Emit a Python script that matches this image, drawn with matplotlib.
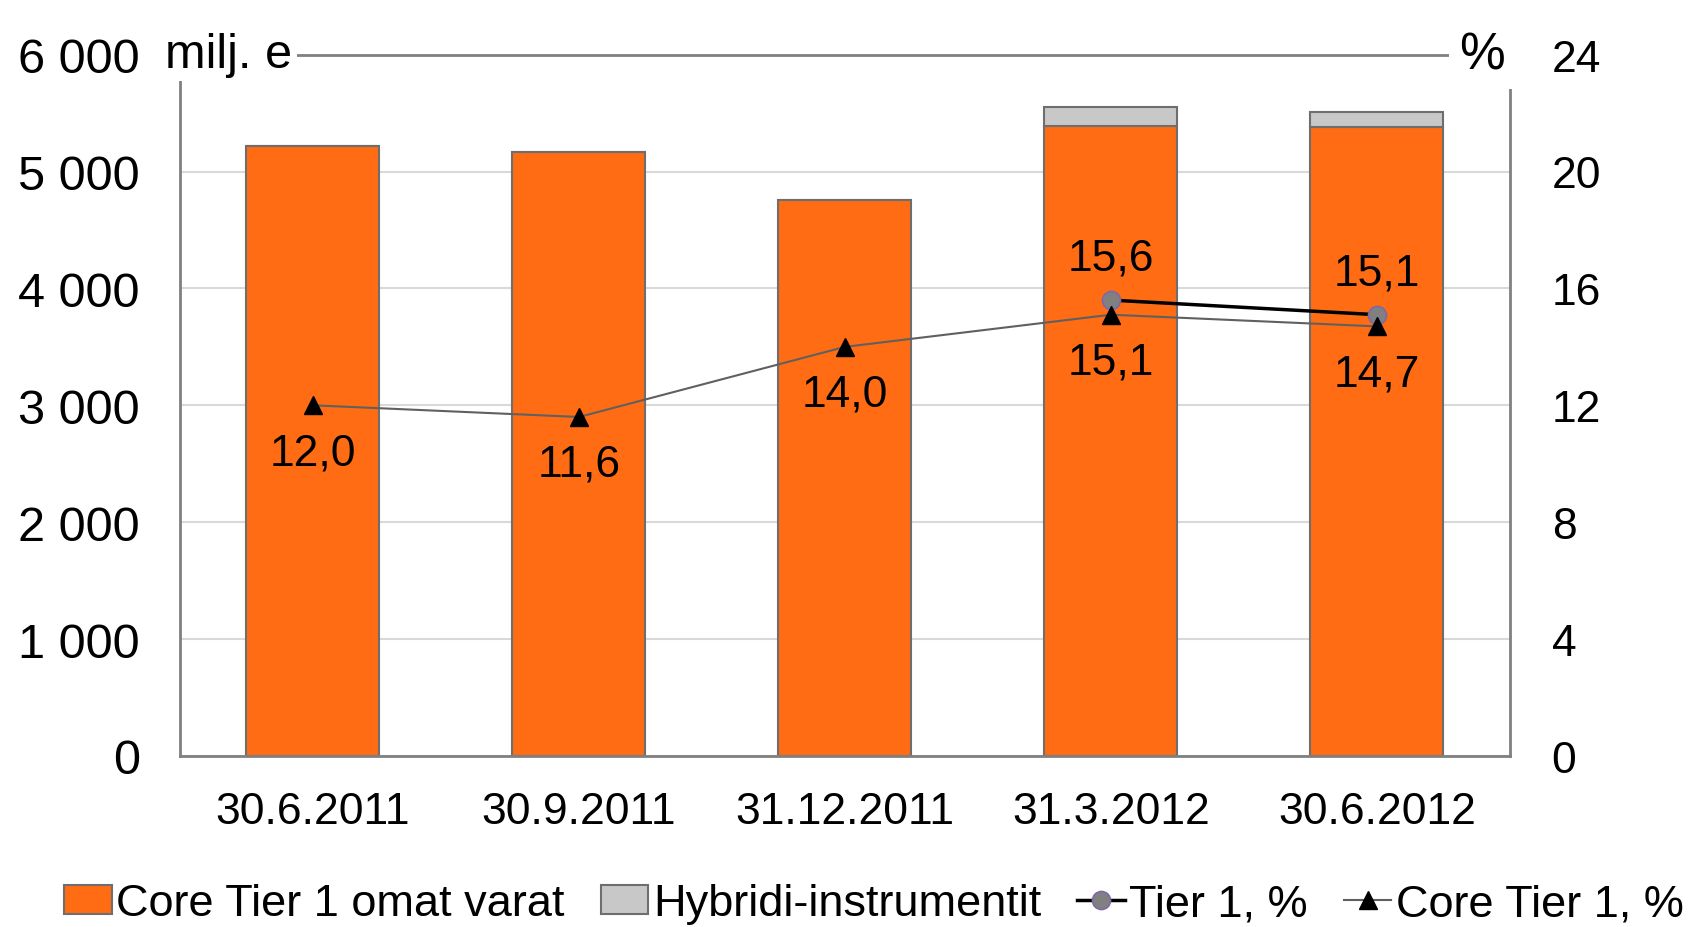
import numpy as np
import matplotlib
matplotlib.use('Agg')
import matplotlib.pyplot as plt

plt.rcParams['font.family'] = ['Liberation Sans', 'DejaVu Sans']

# data
dates = ['30.6.2011', '30.9.2011', '31.12.2011', '31.3.2012', '30.6.2012']
core_capital = [5215, 5170, 4755, 5392, 5378]   # milj. e
hybrid = [0, 0, 0, 163, 131]                     # milj. e
tier1_pct = [np.nan, np.nan, np.nan, 15.6, 15.1]
core_tier1_pct = [12.0, 11.6, 14.0, 15.1, 14.7]
left_ticks = [0, 1000, 2000, 3000, 4000, 5000, 6000]
left_ticklabels = ['0', '1 000', '2 000', '3 000', '4 000', '5 000', '6 000']
right_ticks = [0, 4, 8, 12, 16, 20, 24]

orange = '#FF6C13'
grey_bar = '#C8C8C8'
edge = '#6E6E6E'

fig = plt.figure(figsize=(17.06, 9.28), dpi=100)
ax = fig.add_axes([180/1706, 1-757/928, 1330/1706, 701.4/928])

x = np.arange(len(dates))
ax.bar(x, core_capital, width=0.5, color=orange, edgecolor=edge, linewidth=1.5,
       label='Core Tier 1 omat varat', zorder=2)
ax.bar(x, hybrid, width=0.5, bottom=core_capital, color=grey_bar, edgecolor=edge,
       linewidth=1.5, label='Hybridi-instrumentit', zorder=2)

ax.set_xlim(-0.5, len(dates) - 0.5)
ax.set_ylim(0, 6000)
ax.set_yticks(left_ticks)
ax.set_yticklabels(left_ticklabels)
ax.set_xticks(x)
ax.set_xticklabels(dates)
ax.tick_params(axis='y', length=0, pad=29, labelsize=35)
ax.tick_params(axis='x', length=0, pad=25, labelsize=32)
ax.yaxis.grid(True, color='#D9D9D9', linewidth=1.5, zorder=0)
ax.set_axisbelow(True)
for s in ['left', 'right', 'bottom', 'top']:
    ax.spines[s].set_color('#808080')
    ax.spines[s].set_linewidth(2)

ax2 = ax.twinx()
ax2.set_ylim(0, 24)
ax2.set_yticks(right_ticks)
ax2.tick_params(axis='y', length=0, pad=30, labelsize=32)
for s in ['left', 'right', 'bottom', 'top']:
    ax2.spines[s].set_visible(False)

ax2.plot(x, tier1_pct, color='black', linewidth=2.5, marker='o', markersize=13,
         markerfacecolor='#808080', markeredgecolor='#7F68A8', markeredgewidth=1.2,
         label='Tier 1, %', zorder=3)
ax2.plot(x, core_tier1_pct, color='#606060', linewidth=1.5, marker='^', markersize=13,
         markerfacecolor='black', markeredgecolor='black',
         label='Core Tier 1, %', zorder=4)

for xi, v in zip(x, tier1_pct):
    if not np.isnan(v):
        ax2.annotate(f'{v:.1f}'.replace('.', ','), (xi, v), xytext=(0, 30),
                     textcoords='offset points', ha='center', va='center', fontsize=32)
for xi, v in zip(x, core_tier1_pct):
    ax2.annotate(f'{v:.1f}'.replace('.', ','), (xi, v), xytext=(0, -34),
                 textcoords='offset points', ha='center', va='center', fontsize=32)

# unit labels covering the frame corners
ax.text(-0.011, 1.0, 'milj. e', transform=ax.transAxes, ha='left', va='center',
        fontsize=35, bbox=dict(facecolor='white', edgecolor='none', pad=3), zorder=10)
ax.text(0.996, 1.0, '%', transform=ax.transAxes, ha='right', va='center',
        fontsize=37, bbox=dict(facecolor='white', edgecolor='none', pad=7), zorder=10)

h1, l1 = ax.get_legend_handles_labels()
h2, l2 = ax2.get_legend_handles_labels()
fig.legend(h1 + h2, l1 + l2, loc='center', bbox_to_anchor=(874/1706, 1-905/928),
           ncol=4, frameon=False, fontsize=32.5, handlelength=1.05, handleheight=0.6,
           handletextpad=0.1, columnspacing=0.8, borderaxespad=0)

fig.savefig('out.png', dpi=100)
